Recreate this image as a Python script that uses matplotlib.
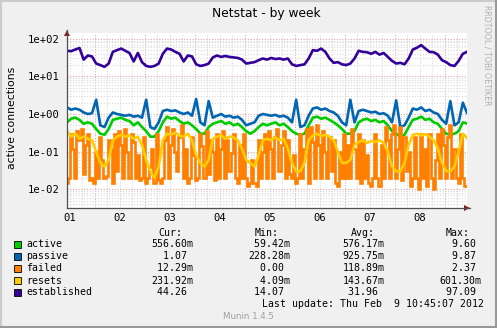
import numpy as np
import matplotlib
matplotlib.use("Agg")
import matplotlib.pyplot as plt
from matplotlib.patches import Rectangle
from matplotlib.lines import Line2D

# Munin "netstat" week graph starting Thu Feb 1 10:45
START_HOUR = 10.75
STEP_H = 2          # sample step of the smooth series (hours)
FAILED_STEP_H = 1   # failed is read at a finer step
SPAN_H = 192

series_names = ["active", "passive", "failed", "resets", "established"]
series_colors = ["#00CC00", "#0066B3", "#FF8000", "#FFCC00", "#330099"]

active = [0.6, 0.75, 0.8, 0.7, 0.55, 0.6, 0.55, 0.4, 0.3, 0.28, 0.4, 0.7, 0.75, 0.8, 0.7, 0.65,
          0.5, 0.6, 0.45, 0.35, 0.25, 0.25, 0.35, 0.6, 0.85, 0.75, 0.8, 0.65, 0.55, 0.6, 0.5, 0.4,
          0.3, 0.3, 0.45, 0.55, 0.6, 0.65, 0.55, 0.6, 0.5, 0.55, 0.45, 0.35, 0.3, 0.35, 0.45, 0.55,
          0.5, 0.55, 0.6, 0.5, 0.55, 0.45, 0.35, 0.3, 0.28, 0.3, 0.5, 0.8, 0.85, 0.75, 0.8, 0.7,
          0.6, 0.5, 0.4, 0.3, 0.3, 0.35, 0.6, 0.7, 0.75, 0.65, 0.7, 0.6, 0.65, 0.5, 0.35, 0.3,
          0.25, 0.28, 0.45, 0.7, 0.75, 0.85, 0.7, 0.75, 0.6, 0.55, 0.4, 0.3, 0.28, 0.3, 0.35, 0.6,
          0.56]
passive = [1.5, 1.3, 1.4, 1.3, 1.1, 1.0, 1.05, 2.4, 0.5, 0.45, 0.8, 1.1, 1.0, 0.95, 0.9, 0.95,
           0.85, 0.9, 0.8, 2.4, 0.45, 0.4, 0.6, 1.2, 1.3, 1.2, 1.25, 1.1, 1.0, 1.1, 0.9, 2.5,
           0.6, 0.5, 2.2, 0.8, 0.9, 1.0, 0.85, 0.9, 0.8, 0.85, 0.7, 0.5, 0.55, 0.6, 0.9, 1.0,
           0.95, 0.9, 0.95, 0.85, 0.9, 0.8, 0.6, 2.4, 0.45, 0.5, 0.9, 1.4, 1.5, 1.3, 1.4, 1.2,
           1.1, 0.9, 0.6, 0.5, 2.4, 0.6, 1.2, 1.3, 1.2, 1.1, 1.15, 1.0, 1.05, 0.9, 0.6, 2.3,
           0.45, 0.5, 0.8, 1.4, 1.3, 1.5, 1.2, 1.3, 1.1, 1.0, 0.7, 0.55, 2.2, 0.5, 0.6, 2.0,
           1.07]
failed = [0.015, 0.02, 0.3, 0.12, 0.02, 0.35, 0.2, 0.4, 0.025, 0.15, 0.3, 0.018,
          0.02, 0.015, 0.1, 0.02, 0.25, 0.06, 0.02, 0.022, 0.2, 0.12, 0.015, 0.3,
          0.03, 0.35, 0.15, 0.02, 0.4, 0.1, 0.02, 0.3, 0.18, 0.02, 0.08, 0.018,
          0.02, 0.25, 0.015, 0.02, 0.04, 0.12, 0.015, 0.3, 0.018, 0.015, 0.02, 0.2,
          0.45, 0.02, 0.15, 0.4, 0.1, 0.03, 0.25, 0.5, 0.02, 0.12, 0.015, 0.02,
          0.25, 0.08, 0.018, 0.02, 0.3, 0.14, 0.02, 0.35, 0.025, 0.2, 0.1, 0.018,
          0.3, 0.02, 0.12, 0.35, 0.02, 0.2, 0.03, 0.09, 0.3, 0.02, 0.015, 0.15,
          0.02, 0.3, 0.02, 0.012, 0.015, 0.06, 0.015, 0.012, 0.2, 0.02, 0.1, 0.3,
          0.02, 0.35, 0.12, 0.02, 0.25, 0.4, 0.03, 0.15, 0.35, 0.02, 0.2, 0.025,
          0.02, 0.08, 0.015, 0.02, 0.3, 0.02, 0.12, 0.4, 0.015, 0.45, 0.18, 0.02,
          0.5, 0.15, 0.02, 0.35, 0.1, 0.02, 0.25, 0.03, 0.2, 0.015, 0.012, 0.1,
          0.02, 0.3, 0.02, 0.15, 0.02, 0.4, 0.12, 0.02, 0.3, 0.015, 0.2, 0.02,
          0.08, 0.015, 0.012, 0.02, 0.3, 0.02, 0.012, 0.15, 0.02, 0.45, 0.2, 0.02,
          0.3, 0.5, 0.02, 0.12, 0.45, 0.018, 0.25, 0.03, 0.1, 0.012, 0.02, 0.25,
          0.02, 0.01, 0.3, 0.02, 0.12, 0.012, 0.3, 0.02, 0.01, 0.06, 0.3, 0.02,
          0.4, 0.15, 0.02, 0.25, 0.5, 0.02, 0.12, 0.02, 0.015, 0.3, 0.02, 0.012,
          0.012]
resets = [0.35, 0.25, 0.3, 0.22, 0.25, 0.22, 0.2, 0.1, 0.05, 0.04, 0.06, 0.2, 0.25, 0.28, 0.25, 0.27,
          0.22, 0.25, 0.15, 0.06, 0.03, 0.02, 0.04, 0.2, 0.3, 0.28, 0.32, 0.27, 0.25, 0.3, 0.2, 0.08,
          0.05, 0.04, 0.06, 0.22, 0.25, 0.27, 0.22, 0.25, 0.24, 0.2, 0.12, 0.06, 0.05, 0.04, 0.08, 0.2,
          0.22, 0.2, 0.24, 0.2, 0.22, 0.12, 0.05, 0.03, 0.03, 0.05, 0.2, 0.27, 0.3, 0.26, 0.28, 0.25,
          0.2, 0.1, 0.05, 0.05, 0.06, 0.15, 0.18, 0.2, 0.17, 0.19, 0.18, 0.2, 0.17, 0.1, 0.04, 0.03,
          0.03, 0.05, 0.15, 0.28, 0.3, 0.27, 0.29, 0.25, 0.2, 0.12, 0.05, 0.03, 0.03, 0.04, 0.1, 0.3,
          0.23]
established = [48, 47, 52, 57, 28, 36, 34, 22, 20, 18, 22, 45, 50, 55, 48, 42,
               25, 42, 24, 19, 18, 19, 22, 40, 55, 52, 45, 40, 25, 36, 34, 21,
               19, 20, 22, 32, 36, 33, 35, 33, 32, 31, 28, 22, 23, 24, 27, 30,
               28, 31, 29, 30, 28, 30, 21, 19, 20, 21, 30, 50, 48, 55, 45, 30,
               23, 24, 21, 20, 22, 30, 48, 45, 44, 40, 45, 38, 42, 33, 26, 22,
               23, 21, 30, 52, 58, 68, 55, 45, 44, 38, 27, 24, 20, 19, 26, 40,
               45]

legend_cur = ["556.60m", "1.07", "12.29m", "231.92m", "44.26"]
legend_min = ["59.42m", "228.28m", "0.00", "4.09m", "14.07"]
legend_avg = ["576.17m", "925.75m", "118.89m", "143.67m", "31.96"]
legend_max = ["9.60", "9.87", "2.37", "601.30m", "97.09"]

day_labels = ["01", "02", "03", "04", "05", "06", "07", "08"]
ytick_vals = [1e-2, 1e-1, 1e0, 1e1, 1e2]
ytick_labels = ["1e-02", "1e-01", "1e+00", "1e+01", "1e+02"]

W, H = 497, 328
fig = plt.figure(figsize=(W / 100, H / 100), dpi=100, facecolor="#F0F0F0")

def fx(px):
    return px / W

def fy(py):
    return 1 - py / H

# plot area in pixels
L, R, T, B = 67, 467, 33, 208
ax = fig.add_axes([fx(L), fy(B), (R - L) / W, (B - T) / H])
ax.set_facecolor("white")
ax.set_yscale("log")
ax.set_xlim(0, SPAN_H)
ax.set_ylim(10 ** -2.5, 10 ** 2.155)

# grid lines (rrdtool style)
minor_c = "#D8D8D8"
major_c = "#E8A8A8"
first_midnight = 24 - START_HOUR
for h in np.arange(first_midnight % 6, SPAN_H, 6):
    is_major = abs(((h - first_midnight) / 24) - round((h - first_midnight) / 24)) < 1e-6
    ax.axvline(h, color=major_c if is_major else minor_c, lw=0.8,
               ls=(0, (1, 1.5)), zorder=0)
ax.set_yticks(ytick_vals)
ax.set_yticklabels(ytick_labels)
ax.yaxis.set_minor_locator(matplotlib.ticker.LogLocator(base=10, subs=np.arange(2, 10)))
ax.yaxis.set_minor_formatter(matplotlib.ticker.NullFormatter())
ax.grid(which="major", axis="y", color=major_c, lw=0.8, ls=(0, (1, 1.5)), zorder=0)
ax.grid(which="minor", axis="y", color=minor_c, lw=0.8, ls=(0, (1, 1.5)), zorder=0)
ax.set_axisbelow(True)

# day labels at noon
noon_pos = [first_midnight - 12 + 24 * k for k in range(len(day_labels))]
ax.set_xticks(noon_pos)
ax.set_xticklabels(day_labels)

mono = "DejaVu Sans Mono"
ax.tick_params(axis="both", which="both", length=0, labelsize=7.6, colors="black")
ax.tick_params(axis="y", pad=5.5)
ax.tick_params(axis="x", pad=3.5)
for lab in ax.get_xticklabels() + ax.get_yticklabels():
    lab.set_family(mono)

for s in ["top", "right", "left", "bottom"]:
    ax.spines[s].set_visible(False)

# series, drawn in rrdtool order
all_series = [active, passive, failed, resets, established]
for name, vals, col in zip(series_names, all_series, series_colors):
    if name == "failed":
        xs = np.arange(len(vals)) * FAILED_STEP_H
        ax.plot(xs, vals, color=col, lw=1.9, drawstyle="steps-mid",
                solid_joinstyle="miter", zorder=3)
    else:
        xs = np.arange(len(vals)) * STEP_H
        ax.plot(xs, vals, color=col, lw=1.9, zorder=3)

# axes with arrows
axis_c = "#505050"
fig.add_artist(Line2D([fx(L), fx(R + 3)], [fy(B), fy(B)], color=axis_c, lw=0.9))
fig.add_artist(Line2D([fx(L), fx(L)], [fy(B), fy(T - 3)], color=axis_c, lw=0.9))
ax.plot([1.0], [0.0], marker=">", color="#8B1A1A", ms=4.5, transform=ax.transAxes,
        clip_on=False, zorder=5, markeredgewidth=0)
ax.plot([0.0], [1.0], marker="^", color="#8B1A1A", ms=4.5,
        transform=ax.transAxes, clip_on=False, zorder=5, markeredgewidth=0)

# title and side texts
fig.text(fx(266), fy(13), "Netstat - by week", ha="center", va="center",
         fontsize=8.8, family="DejaVu Sans")
fig.text(fx(12), fy(118), "active connections", ha="center", va="center",
         rotation=90, fontsize=7.8, family="DejaVu Sans")
fig.text(fx(487), fy(5), "RRDTOOL / TOBI OETIKER", ha="center", va="top",
         rotation=270, fontsize=5.7, family="DejaVu Sans", color="#B0B0B0")

# legend block
lf = 7.1
header_y = 233
fig.text(fx(158), fy(header_y), "Cur:", family=mono, fontsize=lf, va="center")
fig.text(fx(254.5), fy(header_y), "Min:", family=mono, fontsize=lf, va="center")
fig.text(fx(351), fy(header_y), "Avg:", family=mono, fontsize=lf, va="center")
fig.text(fx(446), fy(header_y), "Max:", family=mono, fontsize=lf, va="center")

def cell(v):
    # rrdtool "%6.2lf%s": number padded to 6, then unit or blank
    if v[-1].isalpha():
        return f"{v[:-1]:>6}{v[-1]}"
    return f"{v:>6} "

row_y = [244.3, 256.3, 268.3, 280.5, 292.3]
for i, name in enumerate(series_names):
    yy = row_y[i]
    fig.add_artist(Rectangle((fx(13.5), fy(yy + 3.5)), 7 / W, 7 / H,
                             facecolor=series_colors[i], edgecolor="black", lw=0.6))
    fig.text(fx(26), fy(yy), name, family=mono, fontsize=lf, va="center")
    fig.text(fx(151), fy(yy), cell(legend_cur[i]), family=mono, fontsize=lf, va="center")
    fig.text(fx(248.5), fy(yy), cell(legend_min[i]), family=mono, fontsize=lf, va="center")
    fig.text(fx(342.5), fy(yy), cell(legend_avg[i]), family=mono, fontsize=lf, va="center")
    fig.text(fx(439.5), fy(yy), cell(legend_max[i]), family=mono, fontsize=lf, va="center")

fig.text(fx(484), fy(304.3), "Last update: Thu Feb  9 10:45:07 2012", family=mono,
         fontsize=lf, va="center", ha="right")
fig.text(fx(248), fy(316.7), "Munin 1.4.5", family="DejaVu Sans", fontsize=6.2,
         va="center", ha="center", color="#A0A0A0")

# 3D frame around the image
fig.add_artist(Line2D([fx(0.5), fx(0.5)], [fy(0), fy(H)], color="#CBCBCB", lw=1.5))
fig.add_artist(Line2D([fx(0), fx(W)], [fy(0.5), fy(0.5)], color="#CBCBCB", lw=1.5))
fig.add_artist(Line2D([fx(W - 1), fx(W - 1)], [fy(0), fy(H)], color="#999999", lw=1.5))
fig.add_artist(Line2D([fx(0), fx(W)], [fy(H - 1), fy(H - 1)], color="#999999", lw=1.5))

fig.savefig("out.png", dpi=100, facecolor=fig.get_facecolor())
